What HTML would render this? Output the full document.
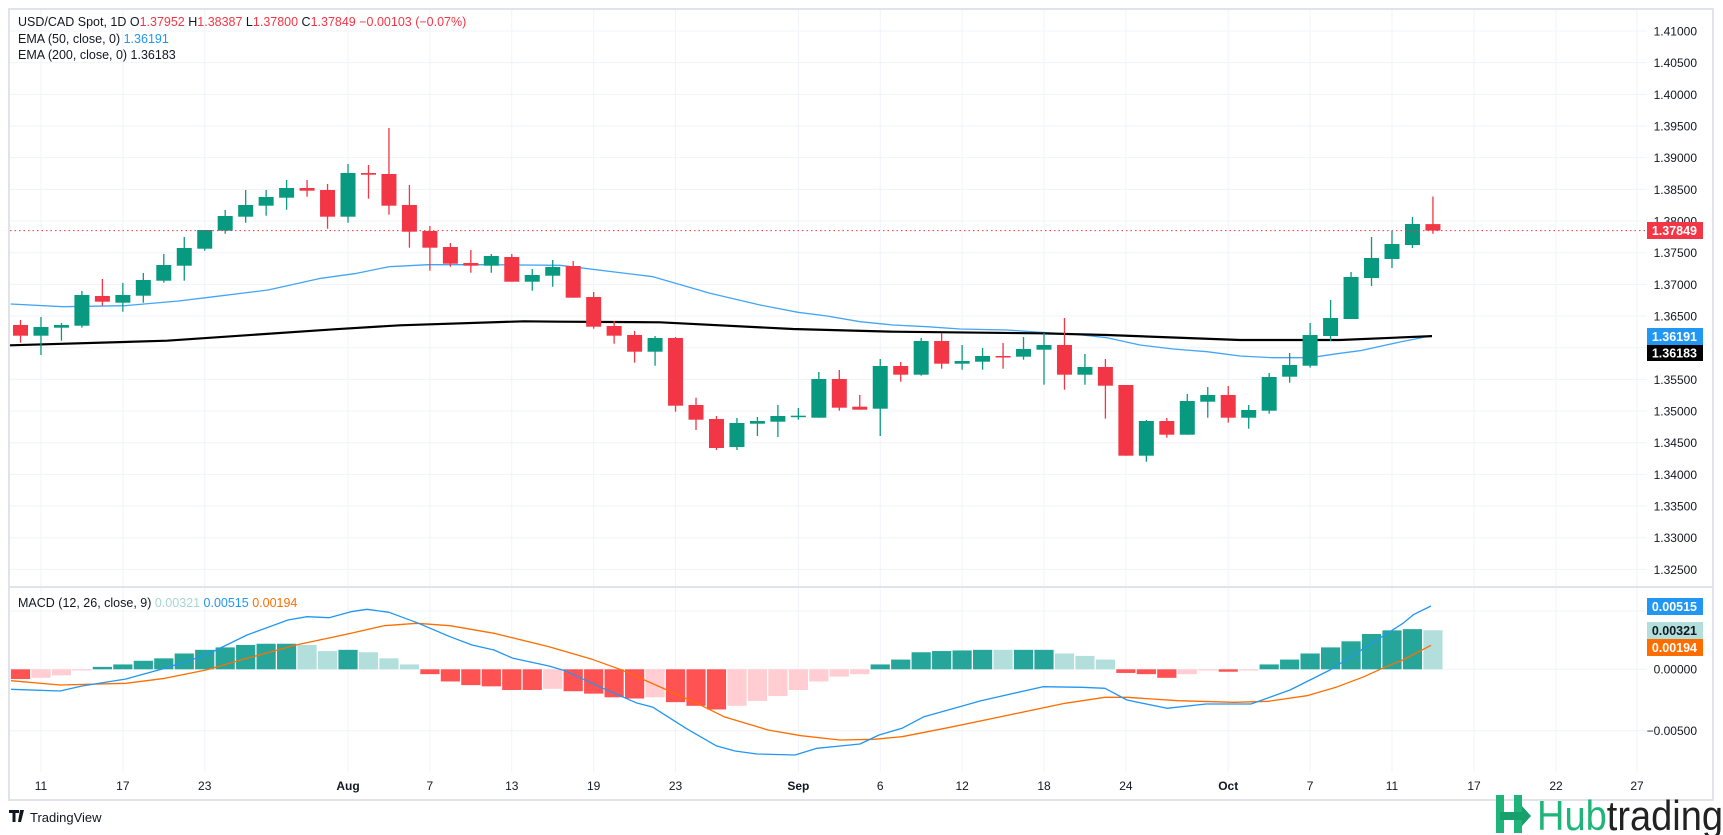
<!DOCTYPE html>
<html><head><meta charset="utf-8"><style>
html,body{margin:0;padding:0;background:#fff;width:1723px;height:835px;overflow:hidden}
svg{display:block;font-family:"Liberation Sans",sans-serif}
</style></head><body>
<svg id="c" width="1723" height="835" xmlns="http://www.w3.org/2000/svg"></svg>
<script>
var s='';
function X(i){return 20.5+i*20.47;}
for(var k=0;k<18;k++){var y=31+k*31.67;s+='<line x1="10" x2="1647" y1="'+y+'" y2="'+y+'" stroke="#f0f3fa" stroke-width="1"/>';}
[611,669.3,730.7].forEach(function(y){s+='<line x1="10" x2="1647" y1="'+y+'" y2="'+y+'" stroke="#f0f3fa"/>';});
var dl=[[1,'11'],[5,'17'],[9,'23'],[16,'Aug',1],[20,'7'],[24,'13'],[28,'19'],[32,'23'],[38,'Sep',1],[42,'6'],[46,'12'],[50,'18'],[54,'24'],[59,'Oct',1],[63,'7'],[67,'11']];
var dx=dl.map(function(d){return [X(d[0]),d[1],d[2]];});
dx.push([1474,'17'],[1556,'22'],[1637,'27']);
dx.forEach(function(d){s+='<line x1="'+d[0]+'" x2="'+d[0]+'" y1="10" y2="772" stroke="#f0f3fa"/>';
 s+='<text x="'+d[0]+'" y="790" font-size="12" text-anchor="middle" fill="#131722"'+(d[2]?' font-weight="bold"':'')+'>'+d[1]+'</text>';});
s+='<rect x="9" y="9" width="1704" height="791" fill="none" stroke="#e0e3eb" stroke-width="2"/>';
s+='<line x1="9" x2="1713" y1="587" y2="587" stroke="#e0e3eb" stroke-width="2"/>';
var pl=['1.41000','1.40500','1.40000','1.39500','1.39000','1.38500','1.38000','1.37500','1.37000','1.36500','1.36000','1.35500','1.35000','1.34500','1.34000','1.33500','1.33000','1.32500'];
pl.forEach(function(t,k){s+='<text x="1697" y="'+(31+k*31.67+4.5)+'" font-size="12" text-anchor="end" fill="#131722">'+t+'</text>';});
s+='<text x="1697" y="673.5" font-size="12" text-anchor="end" fill="#131722">0.00000</text>';
s+='<text x="1697" y="735" font-size="12" text-anchor="end" fill="#131722">−0.00500</text>';
function pl2(pts,col,w){return '<polyline fill="none" stroke="'+col+'" stroke-width="'+w+'" stroke-linejoin="round" points="'+pts.map(function(p){return p[0]+','+p[1];}).join(' ')+'"/>';}
var e50=[[10.7,304],[62.5,306.7],[125,305.7],[178.5,301],[214,296.7],[268,290],[321,278.3],[357,273.3],[389,266.7],[428,264.7],[482,264.7],[560,265.3],[653,276.7],[710,293.3],[760,305],[798,312.3],[827,316],[860,321.7],[893,325],[927,326.7],[960,329],[1007,330],[1040,332.3],[1073,334],[1107,337.7],[1140,345],[1173,349],[1207,351.7],[1240,356],[1273,357.7],[1310,357.7],[1340,353.3],[1360,350.7],[1400,342],[1432,335.6]];
var e200=[[10,345.3],[167,340.7],[334,329.3],[400,325.3],[524,321.3],[560,321.7],[660,322.3],[793,329],[893,331.7],[1040,333.3],[1107,335],[1240,340],[1340,340],[1432,336.1]];
s+=pl2(e50,'#42a5f5',1.3);
s+=pl2(e200,'#000',2.2);
var C=[
['r',225,235.7,220,242.7],['g',227,235.7,217,255],['g',225,227.7,223,240.7],['g',195,225.7,191,227.7],['r',196,201.7,179,205.7],
['g',195,202.7,183,211.7],['g',180,195.7,173,202.7],['g',165,180.7,154,182.7],['g',148,165.7,137,180.7],['g',130,148.7,130,150.7],
['g',116,130.7,110,133.7],['g',105,116.7,90,122.7],['g',97,105.7,90,115.7],['g',88,97.7,80,109.7],['r',88,90.7,80,96.7],
['r',90,116.7,84,128.7],['g',73,116.7,64,122.7],['r',73,74.7,65,98.7],['r',74,105.7,28,114.7],['r',105,131.7,85,147.7],
['r',131,147.7,126,170.7],['r',147,163.7,143,166.7],['r',163,165.7,150,172.7],['g',156,165.7,154,172.7],['r',157,181.7,154,181.7],
['g',175,181.7,169,190.7],['g',167,175.7,160,186.7],['r',266,297.7,261,297.7],['r',297,326.7,292,328.7],['r',326,335.7,321,343.7],
['r',335,351.7,331,362.7],['g',338,351.7,336,365.7],['r',338,405.7,337,411.7],['r',405,419.7,397.7,430],['r',419,448,416,450],
['g',423,447,418,450],['g',421,423.7,417,436],['g',416,421.7,405,437],['g',415.7,416.9,408,419.7],['g',379,417.7,372,417.7],
['r',379,407.7,370,410.7],['r',406.7,409.7,395,409.7],['g',366,408.7,359,436],['r',366,374.7,362,381.7],['g',341,374.7,338,375.7],
['r',341,363.7,333,368.7],['g',361,363.7,345,369.7],['g',356,361.7,348,369.7],['r',356,357,343,368.7],['g',349,356.7,337,359.7],
['g',345,349.7,333,384.7],['r',345,374.7,318,389.7],['g',367,374.7,354,384.7],['r',367,385.7,359,418.7],['r',385,455.7,385,455.7],
['g',421,455.7,420,461.7],['r',421,434.7,418,437.7],['g',401,434.7,394,434.7],['g',395,401.7,387,417.7],['r',395,417.7,386,422.7],
['g',410,417.7,405,428.7],['g',377,410.7,373,413.7],['g',365,376.7,353,382.7],['g',335,365.7,323,367.7],['g',318,336,300,341],
['g',277,319,272,319],['g',258,278,237,286],['g',244,259,231,268],['g',224,245,217,248],['r',224.1,230.6,196.5,233.7]];
for(var i=0;i<27;i++){for(var j=1;j<5;j++)C[i][j]+=100;}
C.forEach(function(c,i){var x=X(i),col=c[0]=='g'?'#089981':'#f23645';
 s+='<line x1="'+x+'" x2="'+x+'" y1="'+c[3]+'" y2="'+c[4]+'" stroke="'+col+'" stroke-width="1.3"/>';
 var h=Math.max(c[2]-c[1],1.5);
 s+='<rect x="'+(x-7.5)+'" y="'+c[1]+'" width="15" height="'+h+'" fill="'+col+'"/>';});
s+='<line x1="10" x2="1647" y1="230.6" y2="230.6" stroke="#f23645" stroke-dasharray="1.5,3" stroke-width="1"/>';
var H=[[-8,'R'],[-7,'P'],[-5,'P'],[-1,'P'],[2,'G'],[4,'G'],[7,'G'],[9,'G'],[13,'G'],[16,'G'],[18,'G'],[20,'G'],[21,'G'],[21,'G'],[20,'L'],[15,'L'],[16,'G'],[14,'L'],[9,'L'],[4,'L'],
[-4,'R'],[-10,'R'],[-13,'R'],[-14,'R'],[-17,'R'],[-17,'R'],[-16,'P'],[-18,'R'],[-20,'R'],[-23,'R'],[-24,'R'],[-23,'P'],[-27,'R'],[-30,'R'],[-33,'R'],[-30,'P'],[-26,'P'],[-22,'P'],[-17,'P'],[-10,'P'],[-6,'P'],[-4,'P'],
[4,'G'],[8,'G'],[14,'G'],[15,'G'],[15.5,'G'],[16,'G'],[16,'L'],[16,'G'],[16,'G'],[13,'L'],[11,'L'],[8,'L'],[-3,'R'],[-4,'R'],[-7,'R'],[-4,'P'],[-1,'P'],[-2,'R'],[-1,'P'],
[4,'G'],[8,'G'],[13,'G'],[18,'G'],[23,'G'],[29,'G'],[32,'G'],[33,'G'],[32.1,'L']];
var cm={R:'#ff5252',P:'#ffcdd2',G:'#26a69a',L:'#b2dfdb'};
H.forEach(function(h,i){var x=X(i),v=h[0]*1.217,z=669.3;var y=v>0?z-v:z;
 s+='<rect x="'+(x-9.6)+'" y="'+y+'" width="19.2" height="'+Math.abs(v)+'" fill="'+cm[h[1]]+'"/>';});
var mb=[[11,689.3],[60,691],[82,686],[126,679],[165,668.3],[206,655],[247,635],[288,620],[307,616.7],[329,617.7],[351,611.7],[367,609.3],[389,612.3],[417,622.7],[450,636.7],[472,645],[494,650],[513,658.3],[549,666],[565,670.7],[603,688.3],[636,702.7],[653,707.3],[686,728.3],[716,745.7],[735,751],[757,754],[795,755],[817,748.3],[840,746],[860,744],[879,735],[902,728.3],[924,716.7],[981,700.7],[1043,686.7],[1082,687.3],[1105,688.3],[1127,700],[1167,708.3],[1206,704],[1251,704],[1290,690],[1330,670],[1364,648.3],[1403,623.3],[1414,614.3],[1431,606]];
var ms=[[11,680.7],[60,685],[126,683.3],[165,678.3],[206,670],[247,658.3],[296,645],[351,633.3],[384,625.7],[417,623.3],[450,625.7],[494,633.3],[549,646.7],[592,659.3],[620,669.3],[658,686],[697,703.3],[724,716.7],[768,730],[801,735.7],[840,740],[874,739.3],[902,736.7],[953,726.7],[1009,715],[1065,703.3],[1105,697.3],[1127,697.3],[1178,700.7],[1234,702.3],[1268,701.3],[1307,695.7],[1336,687.3],[1364,676.7],[1386,666.7],[1403,660],[1431,645.3]];
s+=pl2(ms,'#ff6d00',1.3);
s+=pl2(mb,'#2196f3',1.3);
function tag(y,h,bg,fg,t){s+='<rect x="1647" y="'+y+'" width="56" height="'+h+'" fill="'+bg+'"/><text x="1697" y="'+(y+h/2+4.5)+'" font-size="12.5" font-weight="bold" text-anchor="end" fill="'+fg+'">'+t+'</text>';}
tag(222,17,'#f23645','#fff','1.37849');
tag(328,17,'#2196f3','#fff','1.36191');
tag(345,16,'#000','#fff','1.36183');
tag(598,17,'#2196f3','#fff','0.00515');
tag(622,17,'#b2dfdb','#131722','0.00321');
tag(639,17,'#ff6d00','#fff','0.00194');
s+='<text x="18" y="26" font-size="12.5" fill="#131722">USD/CAD Spot, 1D  O<tspan fill="#f23645">1.37952</tspan>  H<tspan fill="#f23645">1.38387</tspan>  L<tspan fill="#f23645">1.37800</tspan>  C<tspan fill="#f23645">1.37849</tspan>  <tspan fill="#f23645">−0.00103 (−0.07%)</tspan></text>';
s+='<text x="18" y="43" font-size="12.5" fill="#131722">EMA (50, close, 0)  <tspan fill="#2196f3">1.36191</tspan></text>';
s+='<text x="18" y="59" font-size="12.5" fill="#131722">EMA (200, close, 0)  1.36183</text>';
s+='<text x="18" y="607" font-size="12.5" fill="#131722">MACD (12, 26, close, 9)  <tspan fill="#a5d8d0">0.00321</tspan>  <tspan fill="#2196f3">0.00515</tspan>  <tspan fill="#ff6d00">0.00194</tspan></text>';
s+='<path d="M9 810h10v3h-3.5v9h-3v-9h-3.5z M20 810h4l-3 12h-3z" fill="#131722"/>';
s+='<text x="30" y="822" font-size="13" fill="#131722">TradingView</text>';
s+='<g><rect x="1496" y="795" width="8" height="38" fill="#1fb57a"/><rect x="1514" y="795" width="8" height="38" fill="#1fb57a"/><path d="M1500 812h22v-6l9 10-9 10v-6h-22z" fill="#17a06b"/></g>';
s+='<text x="1537" y="830" font-size="42" textLength="186" lengthAdjust="spacingAndGlyphs" fill="#222"><tspan fill="#1fb57a">Hub</tspan>trading</text>';
document.getElementById('c').innerHTML=s;
</script>
</body></html>
